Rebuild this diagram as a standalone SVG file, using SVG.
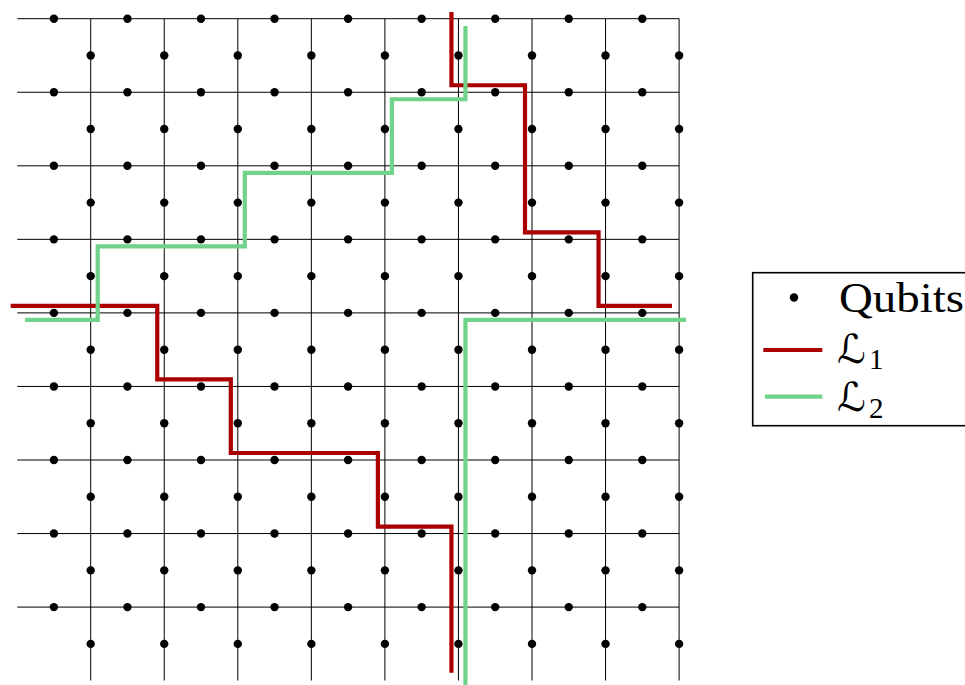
<svg xmlns="http://www.w3.org/2000/svg" xmlns:xlink="http://www.w3.org/1999/xlink" width="965" height="685" viewBox="0 0 965 685">
<style>
.grid{fill:none;stroke:#000;stroke-width:1}
.q{fill:#000}
.l1{fill:none;stroke:#AA0000;stroke-width:4.2;stroke-linejoin:miter}
.l2{fill:none;stroke:#6FD38A;stroke-width:4.2;stroke-linejoin:miter}
.lt{font-family:"Liberation Serif","Times New Roman",serif;fill:#000}
.sc{font-family:"DejaVu Sans","DejaVu Serif",sans-serif;fill:#000}
</style>
<defs>
<g id="hrow" class="q">
<circle cx="53.9" cy="0" r="4.2"/><circle cx="127.45" cy="0" r="4.2"/><circle cx="201" cy="0" r="4.2"/><circle cx="274.55" cy="0" r="4.2"/><circle cx="348.1" cy="0" r="4.2"/><circle cx="421.65" cy="0" r="4.2"/><circle cx="495.2" cy="0" r="4.2"/><circle cx="568.75" cy="0" r="4.2"/><circle cx="642.3" cy="0" r="4.2"/>
</g>
<g id="vcol" class="q">
<circle cx="0" cy="55.5" r="4.2"/><circle cx="0" cy="129.05" r="4.2"/><circle cx="0" cy="202.6" r="4.2"/><circle cx="0" cy="276.15" r="4.2"/><circle cx="0" cy="349.7" r="4.2"/><circle cx="0" cy="423.25" r="4.2"/><circle cx="0" cy="496.8" r="4.2"/><circle cx="0" cy="570.35" r="4.2"/><circle cx="0" cy="643.9" r="4.2"/>
</g>
</defs>
<rect width="965" height="685" fill="#fff"/>
<g id="lattice">
<path class="grid" d="M17.3,18.7H679.1M17.3,92.25H679.1M17.3,165.8H679.1M17.3,239.35H679.1M17.3,312.9H679.1M17.3,386.45H679.1M17.3,460H679.1M17.3,533.55H679.1M17.3,607.1H679.1
M90.7,18.7V680.5M164.25,18.7V680.5M237.8,18.7V680.5M311.35,18.7V680.5M384.9,18.7V680.5M458.45,18.7V680.5M532,18.7V680.5M605.55,18.7V680.5M679.1,18.7V680.5"/>
</g>
<g id="qubits">
<use xlink:href="#hrow" y="18.7"/><use xlink:href="#hrow" y="92.25"/><use xlink:href="#hrow" y="165.8"/><use xlink:href="#hrow" y="239.35"/><use xlink:href="#hrow" y="312.9"/><use xlink:href="#hrow" y="386.45"/><use xlink:href="#hrow" y="460"/><use xlink:href="#hrow" y="533.55"/><use xlink:href="#hrow" y="607.1"/>
<use xlink:href="#vcol" x="90.7"/><use xlink:href="#vcol" x="164.25"/><use xlink:href="#vcol" x="237.8"/><use xlink:href="#vcol" x="311.35"/><use xlink:href="#vcol" x="384.9"/><use xlink:href="#vcol" x="458.45"/><use xlink:href="#vcol" x="532"/><use xlink:href="#vcol" x="605.55"/><use xlink:href="#vcol" x="679.1"/>
</g>
<g id="L1">
<path class="l1" d="M451.45,12V85.25H525V232.35H598.55V305.9H672"/>
<path class="l1" d="M10.7,305.9H157.25V379.45H230.8V453H377.9V526.55H451.45V672.7"/>
</g>
<g id="L2">
<path class="l2" d="M465.45,26V99.25H391.9V172.8H244.8V246.35H97.7V319.9H25"/>
<path class="l2" d="M686,319.9H465.45V686"/>
</g>
<g id="legend">
<rect x="752.7" y="272.7" width="230" height="153" fill="#fff" stroke="#000" stroke-width="1.6"/>
<circle cx="794" cy="297.5" r="4.2" fill="#000"/>
<text class="lt" x="839" y="311.5" font-size="42" textLength="125" lengthAdjust="spacingAndGlyphs">Qubits</text>
<line x1="763.3" y1="350" x2="822.3" y2="350" stroke="#AA0000" stroke-width="4.2"/>
<text class="sc" x="837" y="363" font-size="40" font-style="italic">ℒ<tspan class="lt" x="869" y="369" font-size="29" font-style="normal">1</tspan></text>
<line x1="765" y1="396.7" x2="822.3" y2="396.7" stroke="#6FD38A" stroke-width="4.2"/>
<text class="sc" x="837" y="411" font-size="40" font-style="italic">ℒ<tspan class="lt" x="869" y="418" font-size="29" font-style="normal">2</tspan></text>
</g>
</svg>
